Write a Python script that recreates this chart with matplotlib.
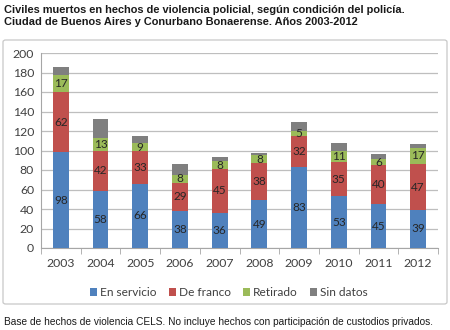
import numpy as np
import matplotlib.pyplot as plt
from matplotlib.patches import FancyBboxPatch

years = ['2003', '2004', '2005', '2006', '2007', '2008', '2009', '2010', '2011', '2012']
en_servicio = [98, 58, 66, 38, 36, 49, 83, 53, 45, 39]
de_franco = [62, 42, 33, 29, 45, 38, 32, 35, 40, 47]
retirado = [17, 13, 9, 8, 8, 8, 5, 11, 6, 17]
sin_datos = [9, 19, 7, 11, 4, 2, 9, 9, 5, 4]

series = [
    ('En servicio', en_servicio, '#4F81BD', True),
    ('De franco', de_franco, '#C0504D', True),
    ('Retirado', retirado, '#9BBB59', True),
    ('Sin datos', sin_datos, '#7F7F7F', False),
]

LABEL_FONT = ['Lato', 'DejaVu Sans']
TITLE_FONT = ['Liberation Sans', 'DejaVu Sans']

fig = plt.figure(figsize=(4.5, 3.3), dpi=100)
W, H = 450, 330

# borde del grafico
box = FancyBboxPatch((3 / W, 1 - 304 / H), 444 / W, 264 / H,
                     boxstyle='round,pad=0,rounding_size=0.006',
                     transform=fig.transFigure, facecolor='white',
                     edgecolor='#C8C8C8', linewidth=0.9, zorder=-5)
fig.patches.append(box)

ax = fig.add_axes([41 / W, 1 - 248 / H, 397 / W, 195 / H])
ax.set_zorder(2)
ax.set_facecolor('none')

x = np.arange(len(years))
bottom = np.zeros(len(years))
handles = []
for name, vals, color, show in series:
    vals = np.array(vals)
    b = ax.bar(x, vals, width=0.4, bottom=bottom, color=color, label=name, zorder=3)
    handles.append(b)
    if show:
        for xi, v, bt in zip(x, vals, bottom):
            ax.text(xi, bt + v / 2, str(v), ha='center', va='center',
                    fontsize=8.5, color='#262626', family=LABEL_FONT, zorder=4)
    bottom += vals

ax.set_xlim(-0.5, len(years) - 0.5)
ax.set_ylim(0, 200)
ax.set_yticks(range(0, 201, 20))
ax.yaxis.grid(True, color='#BEBEBE', linewidth=0.9, zorder=0)
ax.set_axisbelow(True)

for side in ['top', 'right']:
    ax.spines[side].set_visible(False)
ax.spines['left'].set_color('#A6A6A6')
ax.spines['bottom'].set_color('#A6A6A6')

ax.set_xticks(x)
ax.set_xticklabels(years)
ax.tick_params(axis='x', length=0, pad=7)
ax.set_xticks(np.arange(-0.5, len(years), 1), minor=True)
ax.tick_params(axis='x', which='minor', length=4, color='#A6A6A6')
ax.tick_params(axis='y', length=0, pad=5)
for lab in ax.get_xticklabels() + ax.get_yticklabels():
    lab.set_fontsize(8.8)
    lab.set_family(LABEL_FONT)
    lab.set_color('#404040')

leg = fig.legend(handles=handles, loc='center', bbox_to_anchor=(229 / W, 1 - 293 / H),
                 ncol=4, frameon=False, handlelength=0.6, handleheight=0.6,
                 handletextpad=0.25, columnspacing=1.0,
                 prop={'family': LABEL_FONT, 'size': 8.6})
for t in leg.get_texts():
    t.set_color('#404040')

fig.text(4 / W, 1 - 16 / H,
         'Civiles muertos en hechos de violencia policial, según condición del policía.\n'
         'Ciudad de Buenos Aires y Conurbano Bonaerense. Años 2003-2012',
         ha='left', va='center', fontsize=7.9, fontweight='bold',
         family=TITLE_FONT, color='#1a1a1a', linespacing=1.3)

fig.text(4 / W, 1 - 322 / H,
         'Base de hechos de violencia CELS. No incluye hechos con participación de custodios privados.',
         ha='left', va='center', fontsize=7.3, family=TITLE_FONT, color='#1a1a1a')

fig.savefig('out.png', dpi=100)
